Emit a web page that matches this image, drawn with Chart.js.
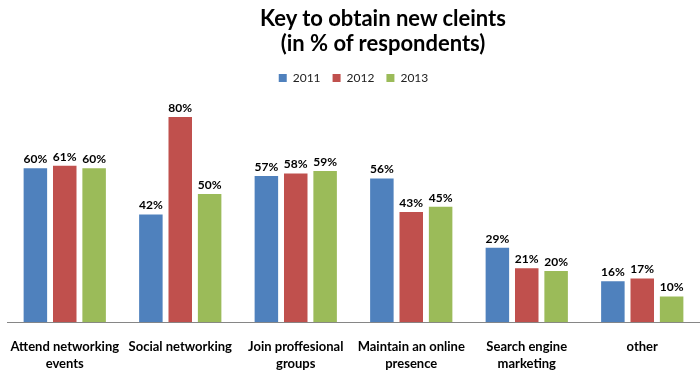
<!DOCTYPE html>
<html>
<head>
<meta charset="utf-8">
<script src="https://cdn.jsdelivr.net/npm/chart.js@4"></script>
<style>
html,body{margin:0;padding:0;background:#fff;}
#wrap{position:relative;width:700px;height:390px;}
#title{position:absolute;left:0;top:5px;width:766px;text-align:center;font-family:Lato,"Open Sans",sans-serif;font-weight:bold;font-size:22px;line-height:25px;color:#000;}
canvas{position:absolute;left:0;top:0;}
</style>
</head>
<body>
<div id="wrap">
<canvas id="c" width="700" height="390"></canvas>
<div id="title">Key to obtain new cleints<br>(in % of respondents)</div>
</div>
<script>
const categories = [
  ["Attend networking", "events"],
  ["Social networking"],
  ["Join proffesional", "groups"],
  ["Maintain an online", "presence"],
  ["Search engine", "marketing"],
  ["other"]
];
const seriesNames = ["2011", "2012", "2013"];
const values2011 = [60, 42, 57, 56, 29, 16];
const values2012 = [61, 80, 58, 43, 21, 17];
const values2013 = [60, 50, 59, 45, 20, 10];
const colors = ["#4F81BD", "#C0504D", "#9BBB59"];

const labelPlugin = {
  id: 'barLabels',
  afterDatasetsDraw(chart) {
    const ctx = chart.ctx;
    ctx.save();
    ctx.font = 'bold 12px Lato, "Open Sans", sans-serif';
    ctx.fillStyle = '#000';
    ctx.textAlign = 'center';
    ctx.textBaseline = 'bottom';
    chart.data.datasets.forEach((ds, i) => {
      const meta = chart.getDatasetMeta(i);
      meta.data.forEach((bar, j) => {
        ctx.fillText(ds.data[j] + '%', bar.x, bar.y - 3);
      });
    });
    ctx.restore();
  }
};

new Chart(document.getElementById('c'), {
  type: 'bar',
  data: {
    labels: categories,
    datasets: [
      { label: seriesNames[0], data: values2011, backgroundColor: colors[0] },
      { label: seriesNames[1], data: values2012, backgroundColor: colors[1] },
      { label: seriesNames[2], data: values2013, backgroundColor: colors[2] }
    ]
  },
  options: {
    responsive: false,
    animation: false,
    layout: { padding: { top: 60, left: 7, right: 0, bottom: 2 } },
    datasets: { bar: { categoryPercentage: 0.763, barPercentage: 0.8 } },
    plugins: {
      legend: {
        display: true,
        position: 'top',
        labels: {
          boxWidth: 8, boxHeight: 8, padding: 12,
          color: '#222',
          font: { family: 'Lato, "Open Sans", sans-serif', size: 12 }
        }
      },
      title: { display: false },
      tooltip: { enabled: false }
    },
    scales: {
      x: {
        afterFit(scale) { scale.paddingLeft = 0; scale.paddingRight = -4; },
        grid: { display: false, drawTicks: false },
        border: { display: true, color: '#868686', width: 1 },
        ticks: {
          color: '#000',
          padding: 16,
          maxRotation: 0,
          autoSkip: false,
          font: { family: 'Lato, "Open Sans", sans-serif', size: 13, weight: 'bold', lineHeight: 1.3 }
        }
      },
      y: {
        display: false,
        min: 0,
        max: 89
      }
    }
  },
  plugins: [labelPlugin]
});
</script>
</body>
</html>
